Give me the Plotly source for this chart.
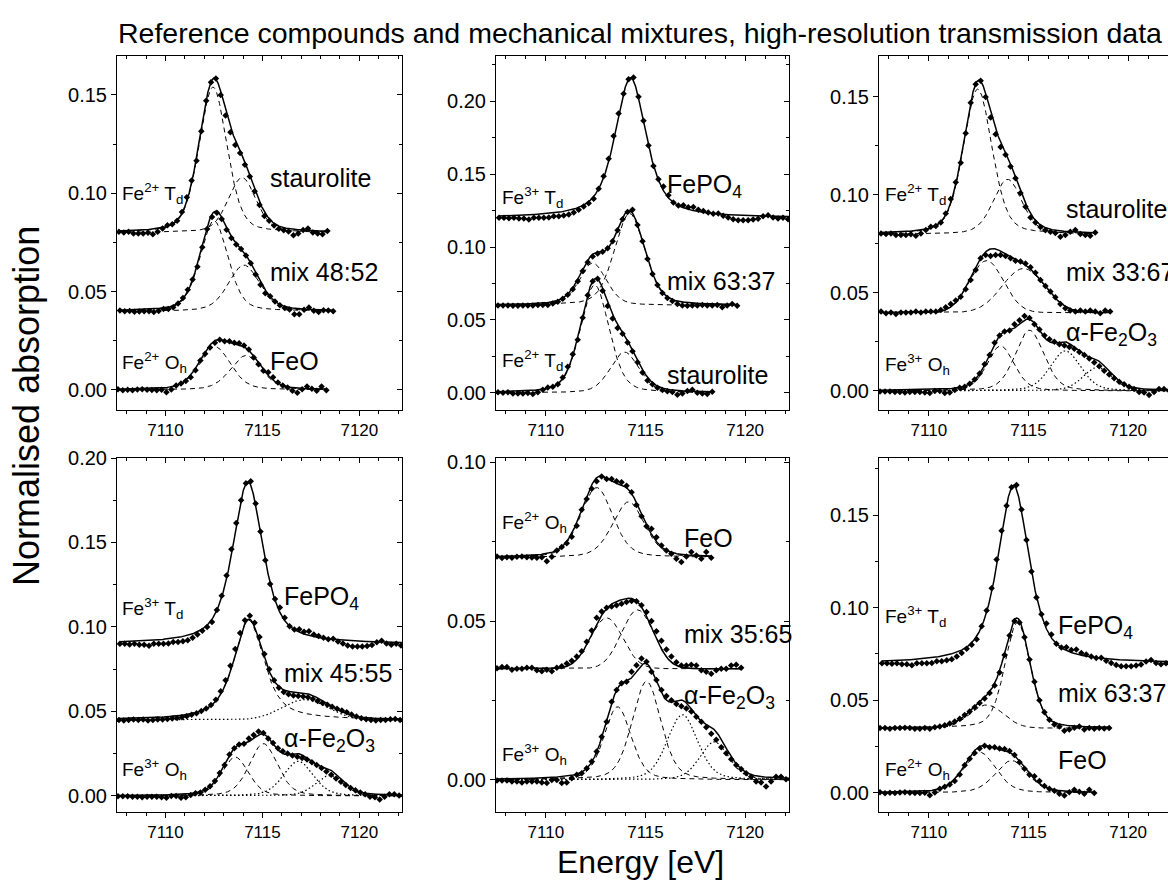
import numpy as np
import plotly.graph_objects as go

E_STEP = 0.25  # eV between measured points

# ---------------- measured pre-edge spectra (baseline removed) ----------------
STAUROLITE_E0 = 7107.60
staurolite = [0.0004, 0.0001, 0.0004, -0.0004, -0.0004, -0.0004, -0.0001, -0.0008, 0.0004, 0.0021,
              0.0038, 0.0042, 0.0060, 0.0105, 0.0180, 0.0265, 0.0365, 0.0515, 0.0670, 0.0765,
              0.0783, 0.0700, 0.0595, 0.0510, 0.0445, 0.0405, 0.0345, 0.0285, 0.0210, 0.0140,
              0.0085, 0.0060, 0.0036, 0.0020, 0.0012, 0.0006, -0.0013, -0.0004, 0.0013, 0.0021,
              0.0001, -0.0004, -0.0008, 0.0008]

FEO_E0 = 7107.55
feo = [0.0003, -0.0002, 0.0001, -0.0001, 0.0002, 0.0003, 0.0001, 0.0000, -0.0001, 0.0001,
       -0.0012, 0.0002, 0.0022, 0.0033, 0.0045, 0.0065, 0.0100, 0.0150, 0.0184, 0.0216,
       0.0240, 0.0255, 0.0247, 0.0247, 0.0240, 0.0237, 0.0226, 0.0205, 0.0165, 0.0130,
       0.0098, 0.0090, 0.0064, 0.0038, 0.0022, 0.0012, -0.0004, -0.0014, 0.0003, 0.0017,
       0.0006, -0.0004, 0.0017, -0.0001]

FEPO4_E0 = 7107.65
fepo4 = [0.0000, 0.0000, -0.0003, 0.0000, -0.0005, -0.0005, -0.0011, 0.0000, 0.0000, 0.0000,
         0.0002, 0.0011, 0.0011, 0.0016, 0.0022, 0.0036, 0.0055, 0.0078, 0.0100, 0.0130,
         0.0200, 0.0285, 0.0405, 0.0560, 0.0715, 0.0850, 0.0950, 0.0962, 0.0830, 0.0665,
         0.0495, 0.0355, 0.0265, 0.0215, 0.0155, 0.0105, 0.0085, 0.0087, 0.0072, 0.0074,
         0.0056, 0.0047, 0.0036, 0.0028, 0.0030, 0.0014, 0.0002, -0.0010, -0.0016, -0.0016,
         -0.0016, -0.0012, -0.0007, 0.0010, 0.0018, 0.0002, -0.0005, 0.0000, -0.0010, 0.0000]

HEMATITE_E0 = 7107.55
hematite = [-0.0002, -0.0002, -0.0002, -0.0005, -0.0005, -0.0008, -0.0005, -0.0005, -0.0005, -0.0008,
            -0.0010, 0.0000, 0.0000, -0.0010, -0.0008, 0.0005, 0.0016, 0.0021, 0.0037, 0.0058,
            0.0089, 0.0136, 0.0183, 0.0246, 0.0283, 0.0304, 0.0309, 0.0340, 0.0361, 0.0382,
            0.0372, 0.0340, 0.0314, 0.0283, 0.0264, 0.0251, 0.0239, 0.0232, 0.0225, 0.0215,
            0.0199, 0.0183, 0.0166, 0.0145, 0.0126, 0.0103, 0.0084, 0.0065, 0.0047, 0.0034,
            0.0021, 0.0010, -0.0005, -0.0008, -0.0021, -0.0005, 0.0010, 0.0010, 0.0002, 0.0000,
            0.0000]

MIX_48_52_E0 = 7107.65
mix_48_52 = [0.0004, 0.0000, 0.0002, -0.0002, -0.0001, 0.0000, 0.0000, -0.0004, 0.0001, 0.0011,
             0.0012, 0.0021, 0.0040, 0.0067, 0.0109, 0.0161, 0.0227, 0.0325, 0.0418, 0.0479,
             0.0501, 0.0469, 0.0414, 0.0373, 0.0339, 0.0317, 0.0284, 0.0244, 0.0187, 0.0135,
             0.0092, 0.0076, 0.0050, 0.0030, 0.0017, 0.0009, -0.0015, -0.0015, 0.0008, 0.0019,
             0.0003, -0.0004, 0.0005, 0.0004, 0.0000]

MIX_63_37_TD_E0 = 7107.60
mix_63_37_td = [0.0000, 0.0000, 0.0000, -0.0003, -0.0003, 0.0000, 0.0000, 0.0000, 0.0002, 0.0002,
                0.0003, 0.0012, 0.0025, 0.0045, 0.0072, 0.0110, 0.0165, 0.0235, 0.0295, 0.0335,
                0.0355, 0.0368, 0.0392, 0.0440, 0.0515, 0.0590, 0.0640, 0.0655, 0.0550, 0.0440,
                0.0318, 0.0215, 0.0140, 0.0085, 0.0050, 0.0030, 0.0010, 0.0000, -0.0002, 0.0000,
                0.0000, 0.0002, 0.0000, 0.0000, 0.0002, -0.0012, 0.0000, 0.0010, -0.0002]

MIX_33_67_E0 = 7107.60
mix_33_67 = [0.0005, -0.0004, 0.0000, -0.0007, 0.0000, 0.0001, 0.0001, 0.0005, 0.0000, 0.0005,
             0.0005, 0.0005, 0.0013, 0.0027, 0.0044, 0.0061, 0.0081, 0.0119, 0.0166, 0.0217,
             0.0277, 0.0294, 0.0289, 0.0294, 0.0294, 0.0289, 0.0277, 0.0265, 0.0260, 0.0251,
             0.0231, 0.0203, 0.0166, 0.0136, 0.0107, 0.0078, 0.0044, 0.0022, 0.0010, 0.0005,
             0.0010, 0.0005, 0.0010, 0.0005, -0.0004, 0.0010, 0.0005]

MIX_45_55_E0 = 7107.60
mix_45_55 = [0.0000, -0.0004, 0.0000, 0.0002, 0.0000, 0.0002, -0.0003, 0.0000, 0.0003, 0.0003,
             0.0005, 0.0008, 0.0012, 0.0015, 0.0022, 0.0030, 0.0040, 0.0052, 0.0068, 0.0088,
             0.0120, 0.0170, 0.0235, 0.0320, 0.0420, 0.0515, 0.0590, 0.0617, 0.0575, 0.0490,
             0.0390, 0.0300, 0.0235, 0.0190, 0.0165, 0.0152, 0.0145, 0.0142, 0.0138, 0.0134,
             0.0124, 0.0112, 0.0100, 0.0090, 0.0078, 0.0066, 0.0056, 0.0045, 0.0032, 0.0020,
             0.0010, 0.0004, 0.0000, -0.0003, 0.0000, 0.0000, 0.0004, 0.0006, 0.0000]

MIX_35_65_E0 = 7107.55
mix_35_65 = [0.0001, 0.0005, 0.0005, -0.0003, 0.0000, 0.0000, 0.0003, 0.0003, -0.0005, -0.0008,
             -0.0003, -0.0008, 0.0003, 0.0008, 0.0016, 0.0025, 0.0038, 0.0055, 0.0085, 0.0120,
             0.0160, 0.0180, 0.0192, 0.0196, 0.0200, 0.0204, 0.0210, 0.0213, 0.0212, 0.0200,
             0.0178, 0.0150, 0.0118, 0.0088, 0.0060, 0.0038, 0.0020, 0.0010, 0.0010, 0.0012,
             0.0010, -0.0005, -0.0010, -0.0016, -0.0005, 0.0000, 0.0000, 0.0010, 0.0012, 0.0003]

MIX_63_37_OH_E0 = 7107.55
mix_63_37_oh = [0.0000, 0.0000, -0.0003, 0.0000, 0.0000, 0.0002, 0.0000, -0.0003, -0.0003, 0.0000,
                -0.0004, 0.0004, 0.0008, 0.0015, 0.0025, 0.0035, 0.0050, 0.0070, 0.0090, 0.0112,
                0.0135, 0.0160, 0.0190, 0.0230, 0.0300, 0.0395, 0.0500, 0.0578, 0.0570, 0.0490,
                0.0370, 0.0250, 0.0150, 0.0085, 0.0045, 0.0020, 0.0008, -0.0015, -0.0008, 0.0002,
                0.0008, -0.0008, 0.0000, -0.0003, 0.0000, -0.0002, 0.0000]

# ------------- fitted pre-edge peaks: (centre eV, height, FWHM eV, Lorentz fraction) -------------
staurolite_peaks = [(7112.45, 0.074, 1.7, 0.3), (7113.95, 0.028, 1.7, 0.3)]
feo_peaks = [(7112.55, 0.022, 1.9, 0.3), (7114.15, 0.0175, 1.9, 0.3)]
fepo4_peaks = [(7114.25, 0.096, 1.85, 0.65)]
hematite_peaks = [(7113.6, 0.023, 1.6, 0.3), (7115.05, 0.031, 1.7, 0.3)]
hematite_peaks_dotted = [(7116.85, 0.0205, 1.8, 0.3), (7118.45, 0.012, 1.7, 0.3)]
mix_48_52_peaks = [(7112.5, 0.046, 1.7, 0.3), (7114.05, 0.0235, 1.9, 0.3)]
mix_63_37_td_peaks = [(7112.35, 0.029, 1.6, 0.3), (7114.2, 0.063, 1.8, 0.3)]
mix_33_67_peaks = [(7112.9, 0.0265, 2.0, 0.0), (7114.75, 0.0225, 2.5, 0.0)]
mix_45_55_peaks = [(7114.3, 0.059, 1.85, 0.7)]
mix_45_55_peaks_dotted = [(7117.2, 0.012, 2.8, 0.0)]
mix_35_65_peaks = [(7113.05, 0.016, 1.9, 0.0), (7114.6, 0.0185, 1.9, 0.0)]
mix_63_37_oh_peaks = [(7112.9, 0.0125, 2.0, 0.0), (7114.45, 0.057, 1.5, 0.3)]


def pseudo_voigt(e, centre, height, fwhm, eta):
    x = (e - centre) / fwhm
    gauss = np.exp(-4.0 * np.log(2.0) * x ** 2)
    lorentz = 1.0 / (1.0 + 4.0 * x ** 2)
    return height * ((1.0 - eta) * gauss + eta * lorentz)


def spectrum(values, e0, offset, dashed=(), dotted=(), show_parts=True):
    return dict(values=values, e0=e0, offset=offset, dashed=list(dashed),
                dotted=list(dotted), show_parts=show_parts)


FONT = "Arial, Liberation Sans, sans-serif"
W, H = 1168, 884

# panel pixel boxes (left, right, top, bottom)
cols = [(117, 402), (496, 789), (879, 1168)]
rows = [(56, 410), (458, 812)]
x_ranges = [(7107.5, 7122.2), (7107.5, 7122.2), (7107.5, 7122.0)]

panels = [
    dict(col=0, row=0, yr=(-0.0102, 0.1698),
         spectra=[spectrum(staurolite, STAUROLITE_E0, 0.08, staurolite_peaks),
                  spectrum(mix_48_52, MIX_48_52_E0, 0.04, mix_48_52_peaks),
                  spectrum(feo, FEO_E0, 0.0, feo_peaks)],
         labels=[("Fe<sup>2+</sup> T<sub>d</sub>", 0.100, False), ("staurolite", 0.108, True),
                 ("mix 48:52", 0.060, True), ("Fe<sup>2+</sup> O<sub>h</sub>", 0.014, False),
                 ("FeO", 0.0145, True)], big_x=7115.3),
    dict(col=1, row=0, yr=(-0.0117, 0.2309),
         spectra=[spectrum(fepo4, FEPO4_E0, 0.12, fepo4_peaks, show_parts=False),
                  spectrum(mix_63_37_td, MIX_63_37_TD_E0, 0.06, mix_63_37_td_peaks),
                  spectrum(staurolite, STAUROLITE_E0, 0.0, staurolite_peaks)],
         labels=[("Fe<sup>3+</sup> T<sub>d</sub>", 0.134, False), ("FePO<sub>4</sub>", 0.142, True),
                 ("mix 63:37", 0.077, True), ("Fe<sup>2+</sup> T<sub>d</sub>", 0.022, False),
                 ("staurolite", 0.012, True)], big_x=7116.0),
    dict(col=2, row=0, yr=(-0.0097, 0.1709),
         spectra=[spectrum(staurolite, STAUROLITE_E0, 0.08, staurolite_peaks),
                  spectrum(mix_33_67, MIX_33_67_E0, 0.04, mix_33_67_peaks),
                  spectrum(hematite, HEMATITE_E0, 0.0, hematite_peaks, hematite_peaks_dotted)],
         labels=[("Fe<sup>2+</sup> T<sub>d</sub>", 0.100, False), ("staurolite", 0.093, True),
                 ("mix 33:67", 0.0607, True), ("α-Fe<sub>2</sub>O<sub>3</sub>", 0.029, True),
                 ("Fe<sup>3+</sup> O<sub>h</sub>", 0.0133, False)], big_x=7116.8),
    dict(col=0, row=1, yr=(-0.0095, 0.2000),
         spectra=[spectrum(fepo4, FEPO4_E0, 0.09, fepo4_peaks, show_parts=False),
                  spectrum(mix_45_55, MIX_45_55_E0, 0.045, mix_45_55_peaks, mix_45_55_peaks_dotted),
                  spectrum(hematite, HEMATITE_E0, 0.0, hematite_peaks, hematite_peaks_dotted)],
         labels=[("Fe<sup>3+</sup> T<sub>d</sub>", 0.111, False), ("FePO<sub>4</sub>", 0.117, True),
                 ("mix 45:55", 0.073, True), ("α-Fe<sub>2</sub>O<sub>3</sub>", 0.033, True),
                 ("Fe<sup>3+</sup> O<sub>h</sub>", 0.0154, False)], big_x=7116.0),
    dict(col=1, row=1, yr=(-0.0101, 0.1013),
         spectra=[spectrum(feo, FEO_E0, 0.07, feo_peaks),
                  spectrum(mix_35_65, MIX_35_65_E0, 0.035, mix_35_65_peaks),
                  spectrum(hematite, HEMATITE_E0, 0.0, hematite_peaks, hematite_peaks_dotted)],
         labels=[("Fe<sup>2+</sup> O<sub>h</sub>", 0.081, False), ("FeO", 0.076, True),
                 ("mix 35:65", 0.046, True), ("α-Fe<sub>2</sub>O<sub>3</sub>", 0.026, True),
                 ("Fe<sup>3+</sup> O<sub>h</sub>", 0.0079, False)], big_x=7116.85),
    dict(col=2, row=1, yr=(-0.0103, 0.1808),
         spectra=[spectrum(fepo4, FEPO4_E0, 0.07, fepo4_peaks, show_parts=False),
                  spectrum(mix_63_37_oh, MIX_63_37_OH_E0, 0.035, mix_63_37_oh_peaks),
                  spectrum(feo, FEO_E0, 0.0, feo_peaks)],
         labels=[("Fe<sup>3+</sup> T<sub>d</sub>", 0.095, False), ("FePO<sub>4</sub>", 0.0896, True),
                 ("mix 63:37", 0.054, True), ("FeO", 0.0178, True),
                 ("Fe<sup>2+</sup> O<sub>h</sub>", 0.0124, False)], big_x=7116.4),
]

fig = go.Figure()
annotations = []
layout_axes = {}
n = len(panels)

for k, p in enumerate(panels, start=1):
    xa = "x" if k == 1 else f"x{k}"
    ya = "y" if k == 1 else f"y{k}"
    xa_top, ya_right = f"x{k + n}", f"y{k + n}"
    left, right = cols[p["col"]]
    top, bottom = rows[p["row"]]

    for s in p["spectra"]:
        vals = np.asarray(s["values"])
        e = s["e0"] + E_STEP * np.arange(len(vals))
        fine = np.linspace(e[0], e[-1], 600)
        peaks = s["dashed"] + s["dotted"]
        total = sum(pseudo_voigt(fine, *pk) for pk in peaks)
        if s["show_parts"]:
            for pk in s["dashed"]:
                fig.add_trace(go.Scatter(x=fine, y=s["offset"] + pseudo_voigt(fine, *pk), mode="lines",
                                         line=dict(color="black", width=1, dash="5px,4px"),
                                         xaxis=xa, yaxis=ya, hoverinfo="skip"))
            for pk in s["dotted"]:
                fig.add_trace(go.Scatter(x=fine, y=s["offset"] + pseudo_voigt(fine, *pk), mode="lines",
                                         line=dict(color="black", width=1.2, dash="1.5px,2.5px"),
                                         xaxis=xa, yaxis=ya, hoverinfo="skip"))
        fig.add_trace(go.Scatter(x=fine, y=s["offset"] + total, mode="lines",
                                 line=dict(color="black", width=1.5),
                                 xaxis=xa, yaxis=ya, hoverinfo="skip"))
        fig.add_trace(go.Scatter(x=e, y=s["offset"] + vals, mode="markers",
                                 marker=dict(symbol="diamond", size=5, color="black"),
                                 xaxis=xa, yaxis=ya))

    # empty traces so the top / right tick axes get drawn
    fig.add_trace(go.Scatter(x=[None], y=[None], xaxis=xa_top, yaxis=ya, hoverinfo="skip"))
    fig.add_trace(go.Scatter(x=[None], y=[None], xaxis=xa, yaxis=ya_right, hoverinfo="skip"))

    x0, x1 = x_ranges[p["col"]]
    xticks = dict(tick0=7110, dtick=5, ticklen=5, tickcolor="black",
                  minor=dict(tick0=7110, dtick=1, ticklen=3, tickcolor="black"))
    yticks = dict(tick0=0, dtick=0.05, ticklen=5, tickcolor="black",
                  minor=dict(tick0=0, dtick=0.025, ticklen=3, tickcolor="black"))
    layout_axes["xaxis" if k == 1 else f"xaxis{k}"] = dict(
        domain=[left / W, right / W], range=[x0, x1], anchor=ya, automargin=False,
        showline=True, linecolor="black", linewidth=1, mirror=True, ticks="outside",
        tickfont=dict(family=FONT, size=17, color="black"),
        showgrid=False, zeroline=False, **xticks)
    layout_axes["xaxis" if k == 1 else f"xaxis{k}"]["minor"] = dict(xticks["minor"], ticks="outside")
    layout_axes[f"xaxis{k + n}"] = dict(
        overlaying=xa, side="top", anchor=ya, range=[x0, x1], automargin=False,
        showline=False, ticks="inside", showticklabels=False,
        showgrid=False, zeroline=False, **xticks)
    layout_axes[f"xaxis{k + n}"]["minor"] = dict(xticks["minor"], ticks="inside")

    layout_axes["yaxis" if k == 1 else f"yaxis{k}"] = dict(
        domain=[1 - bottom / H, 1 - top / H], range=list(p["yr"]), anchor=xa, automargin=False,
        showline=True, linecolor="black", linewidth=1, mirror=p["col"] < 2,
        ticks="outside", tickformat=".2f",
        tickfont=dict(family=FONT, size=20, color="black"),
        showgrid=False, zeroline=False, **yticks)
    layout_axes["yaxis" if k == 1 else f"yaxis{k}"]["minor"] = dict(yticks["minor"], ticks="outside")
    if p["col"] < 2:
        layout_axes[f"yaxis{k + n}"] = dict(
            overlaying=ya, side="right", anchor=xa, range=list(p["yr"]), automargin=False,
            showline=False, ticks="inside", showticklabels=False,
            showgrid=False, zeroline=False, **yticks)
        layout_axes[f"yaxis{k + n}"]["minor"] = dict(yticks["minor"], ticks="inside")
    else:
        layout_axes[f"yaxis{k + n}"] = dict(
            overlaying=ya, side="right", anchor=xa, range=list(p["yr"]), automargin=False,
            visible=False)

    for text, yv, big in p["labels"]:
        annotations.append(dict(
            x=p["big_x"] if big else x0 + 0.18, y=yv, xref=xa, yref=ya,
            text=text, showarrow=False, xanchor="left", yanchor="middle",
            font=dict(family=FONT, size=25 if big else 19, color="black")))

annotations.append(dict(x=640 / W, y=1 - 33 / H, xref="paper", yref="paper",
                        text="Reference compounds and mechanical mixtures, high-resolution transmission data",
                        showarrow=False, xanchor="center", yanchor="middle",
                        font=dict(family=FONT, size=28.5, color="black")))
annotations.append(dict(x=640 / W, y=1 - 862 / H, xref="paper", yref="paper",
                        text="Energy [eV]", showarrow=False, xanchor="center", yanchor="middle",
                        font=dict(family=FONT, size=32, color="black")))
annotations.append(dict(x=27 / W, y=1 - 406 / H, xref="paper", yref="paper",
                        text="Normalised absorption", textangle=-90, showarrow=False,
                        xanchor="center", yanchor="middle",
                        font=dict(family=FONT, size=36, color="black")))

fig.update_layout(width=W, height=H, margin=dict(l=0, r=0, t=0, b=0, pad=0, autoexpand=False),
                  paper_bgcolor="white", plot_bgcolor="white", showlegend=False,
                  annotations=annotations, **layout_axes)

fig.write_html("out.html")
